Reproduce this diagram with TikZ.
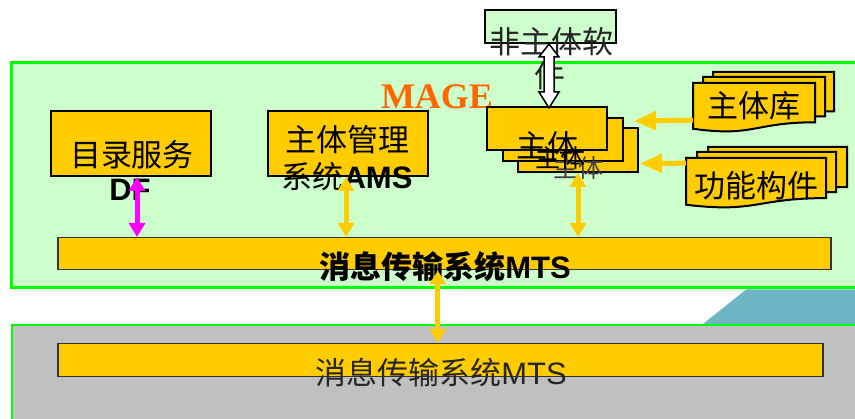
\documentclass[tikz,border=0pt]{standalone}
\usepackage{fontspec}
\setmainfont{Liberation Sans}
\newfontfamily\zh{Noto Sans CJK SC}
\newfontfamily\serifb{Liberation Serif}
\usetikzlibrary{arrows.meta,calc}
\definecolor{gold}{HTML}{FFCC00}
\definecolor{lgreen}{HTML}{CCFFCC}
\definecolor{bgreen}{HTML}{00FF00}
\definecolor{sgray}{HTML}{C0C0C0}
\definecolor{orng}{HTML}{FF6600}
\definecolor{tealc}{HTML}{6FB6C4}
\definecolor{magn}{HTML}{FF00FF}
\newcommand\docpg[4]{\filldraw[docpage] (#1,#2) -- ++(#3,0) -- ++(0,{0.802*#4}) .. controls ({#1+0.5*#3},{#2+0.802*#4}) and ({#1+0.5*#3},{#2+1.107*#4}) .. (#1,{#2+0.934*#4}) -- cycle;}
\begin{document}
\begin{tikzpicture}[x=1pt,y=-1pt,
  ybox/.style={draw=black, line width=2pt, fill=gold, inner sep=0pt, anchor=north west},
  docpage/.style={draw=black, line width=2pt, fill=gold},
  mbar/.style={draw=black!80, line width=1.5pt, fill=gold, inner sep=0pt, anchor=north west},
  tx/.style={inner sep=0pt, font=\fontsize{31}{37}\selectfont},
  txs/.style={inner sep=0pt, font=\fontsize{25}{30}\selectfont},
  varrow/.style={line width=5pt, draw=gold, {Triangle[length=14pt,width=16pt]}-{Triangle[length=14pt,width=16pt]}},
  harrow/.style={line width=5pt, draw=gold, -{Triangle[length=22pt,width=18pt]}},
  hollow/.style={draw=black, line width=1.5pt, fill=white, line join=miter}]
\useasboundingbox (0,0) rectangle (855,419);
% background regions
\fill[tealc] (746,289.5) -- (860,289.5) -- (860,324) -- (703,324) -- cycle;
\draw[fill=sgray, draw=bgreen, line width=2pt] (12,325) rectangle (862,425);
\draw[fill=lgreen, draw=bgreen, line width=3pt] (11.5,63) rectangle (862,288);
% title
\node[inner sep=0pt, text=orng, font=\serifb\bfseries\fontsize{36}{40}\selectfont] (mage) at (437,97) {MAGE};
% non-agent software
\node[draw=black, line width=2pt, fill=lgreen, inner sep=0pt, anchor=north west,
      minimum width=131pt, minimum height=33pt] (nonmain) at (484,9) {};
\node[tx, text=black!85] (nmt1) at (551,42) {\zh 非主体软};
\node[tx, text=black!85] (nmt2) at (550,76) {\zh 件};
% DF and AMS boxes
\node[ybox, minimum width=160pt, minimum height=65pt] (dfbox) at (50,110) {};
\node[tx] (dft1) at (132,155) {\zh 目录服务};
\node[tx] (dft2) at (130,190) {\bfseries DF};
\node[ybox, minimum width=160pt, minimum height=65pt] (amsbox) at (267,110) {};
\node[tx] (amst1) at (347,140) {\zh 主体管理};
\node[tx] (amst2) at (347,177) {{\zh 系统}\bfseries AMS};
% agent stack
\node[ybox, minimum width=120pt, minimum height=44pt] (agent3) at (517,127) {};
\node[ybox, minimum width=120pt, minimum height=43pt] (agent2) at (502,117) {};
\node[ybox, minimum width=120pt, minimum height=43pt] (agent1) at (486,106) {};
\node[txs, text=black!75] (ag3t) at (578,168) {\zh 主体};
\node[txs] (ag2t) at (560,158) {\zh 主体};
\node[tx] (ag1t) at (547,146) {\zh 主体};
% hollow double arrow between non-agent software and agent
\draw[hollow] ([xshift=-1.5pt]nonmain.south) -- ++(10,13) -- ++(-5,0) -- ++(0,35) -- ++(5,0)
  -- ++(-10,16) -- ++(-10,-16) -- ++(5,0) -- ++(0,-35) -- ++(-5,0) -- cycle;
% agent library document stack
\docpg{713}{72}{121}{49}
\docpg{703}{77}{122}{49}
\docpg{693}{83}{122}{49}
\node[inner sep=0pt, minimum width=122pt, minimum height=49pt, anchor=north west] (lib) at (693,83) {};
\node[tx] (libt) at (754,106) {\zh 主体库};
% function component document stack
\docpg{708}{147}{139}{50}
\docpg{697}{152}{139}{50}
\docpg{686}{158}{140}{50}
\node[inner sep=0pt, minimum width=140pt, minimum height=50pt, anchor=north west] (func) at (686,158) {};
\node[tx] (funct) at (756,186) {\zh 功能构件};
% MTS bars
\node[mbar, minimum width=773pt, minimum height=32pt] (mts1) at (57,237) {};
\node[tx] (mts1t) at (445,267) {{\zh\bfseries 消息传输系统}\bfseries MTS};
\node[mbar, minimum width=765pt, minimum height=33pt] (mts2) at (57,343) {};
\node[tx, text=black!85] (mts2t) at (441,373) {{\zh 消息传输系统}MTS};
% connectors
\draw[varrow, draw=magn] ([xshift=6pt]dfbox.south) -- ([xshift=6pt]dfbox.south |- mts1.north);
\draw[varrow] ([xshift=-2pt]amsbox.south) -- ([xshift=-2pt]amsbox.south |- mts1.north);
\draw[varrow] (agent3.south) -- (agent3.south |- mts1.north);
\draw[varrow] ([xshift=-6.5pt]mts1.south) -- ([xshift=-6.5pt]mts1.south |- mts2.north);
\draw[harrow] ([yshift=-12.5pt]lib.west) -- ([xshift=10pt,yshift=18.5pt]agent2.east);
\draw[harrow] ([yshift=20pt]func.west) -- ([xshift=1pt,yshift=-13.5pt]agent3.east);
\end{tikzpicture}
\end{document}
